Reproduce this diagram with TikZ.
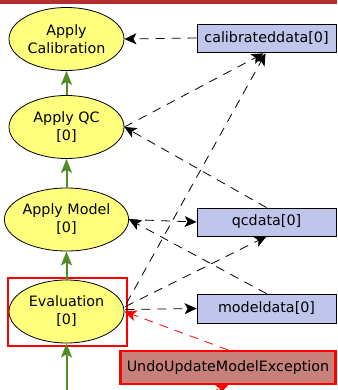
\documentclass[tikz,border=0pt]{standalone}
\usepackage{fontspec}
\setmainfont{DejaVu Sans}
\usetikzlibrary{shapes.geometric,arrows.meta,calc}
\definecolor{topbar}{RGB}{176,48,48}
\definecolor{taskfill}{RGB}{255,255,125}
\definecolor{datafill}{RGB}{192,197,236}
\definecolor{excfill}{RGB}{200,128,122}
\definecolor{flowgreen}{RGB}{78,142,36}
\tikzset{
  task/.style={ellipse, draw=black, line width=0.8pt, fill=taskfill, minimum width=115pt, minimum height=63pt, inner sep=0pt, align=center, font=\fontsize{14.3}{18}\selectfont},
  data/.style={rectangle, draw=black, line width=0.8pt, fill=datafill, minimum width=139pt, minimum height=28pt, inner sep=0pt, font=\fontsize{14.3}{18}\selectfont},
  exc/.style={rectangle, draw=red, line width=2.2pt, fill=excfill, minimum width=215pt, minimum height=33pt, inner sep=0pt, font=\fontsize{14.3}{18}\selectfont},
  flow/.style={draw=flowgreen, line width=2pt, -{Stealth[length=14pt,width=11pt,inset=3pt]}},
  dep/.style={draw=black, line width=0.8pt, dash pattern=on 9pt off 7pt, -{Stealth[length=12pt,width=11pt,inset=3pt]}},
  excdep/.style={draw=red, line width=0.8pt, dash pattern=on 9pt off 7pt, -{Stealth[length=12pt,width=11pt,inset=3pt]}, color=red}
}
\begin{document}
\begin{tikzpicture}[x=1pt,y=-1pt]
\useasboundingbox (0,0) rectangle (337,390);
\fill[topbar] (0,0) rectangle (337,4.5);
% tasks
\node[task] (cal) at (66.5,39) {Apply\\Calibration};
\node[task] (qc) at (66.5,127) {Apply QC\\{[0]}};
\node[task] (model) at (66.5,219.5) {Apply Model\\{[0]}};
\node[task] (eval) at (66.5,311.5) {Evaluation\\{[0]}};
\draw[red, line width=2pt] (8,278) rectangle (127,346);
% data
\node[data] (cdata) at (266.5,38) {calibrateddata[0]};
\node[data] (qdata) at (266.5,222) {qcdata[0]};
\node[data, minimum height=29pt] (mdata) at (266.5,308.5) {modeldata[0]};
\node[exc] (undo) at (228,367.5) {UndoUpdateModelException};
\coordinate (below) at (66.5,395);
\coordinate (excsrc) at (195,399);
% flow
\draw[flow] (qc.north) -- (cal.south);
\draw[flow] (model.north) -- (qc.south);
\draw[flow] (eval.north) -- (model.south);
\draw[flow] (below) -- (eval.south);
% dependencies
\draw[dep] (cdata.west) -- (cal.east);
\draw[dep] (qc.east) -- ($(cdata.south)+(-3,1)$);
\draw[dep] (qdata.north) -- (qc.east);
\draw[dep] (model.east) -- (qdata.west);
\draw[dep] (mdata.north) -- (model.east);
\draw[dep] ($(eval.east)+(2,-8)$) -- ($(cdata.south)+(-1,1)$);
\draw[dep] ($(eval.east)+(1,-5)$) -- (qdata.south);
\draw[dep] ($(eval.east)+(1,-2)$) -- (mdata.west);
\draw[excdep] (undo.north) -- (eval.east);
\draw[excdep] (excsrc) -- (undo.south);
\end{tikzpicture}
\end{document}
